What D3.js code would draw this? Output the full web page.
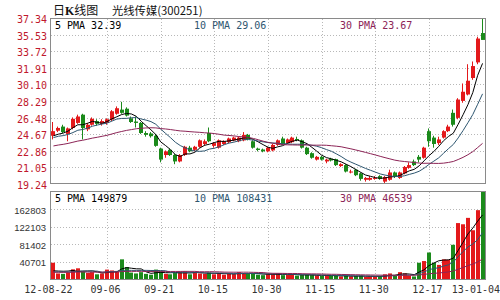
<!DOCTYPE html>
<html><head><meta charset="utf-8">
<script src="https://cdn.jsdelivr.net/npm/d3@7"></script>
<style>html,body{margin:0;padding:0;background:#fff;} svg{display:block;}</style>
</head><body>
<svg id="c" width="500" height="300"></svg>
<script>
// ---------- DATA ----------
const opens  = [24.5,25.05,25.5,24.7,25.35,25.9,26.8,25.2,25.7,26.1,25.8,25.9,26.26,26.9,27.35,27.45,26.4,26.05,25.9,24.8,24.75,24.5,23.1,22.4,22.97,22.4,21.7,22.4,23.2,22.97,23.3,23.6,24.8,23.4,23.2,23.6,23.8,24.0,23.9,24.0,24.6,23.9,23.1,23.0,22.8,22.9,23.5,24.2,23.7,23.8,24.15,24.0,23.2,22.6,21.9,22.2,21.7,22.0,21.95,21.2,21.3,20.5,20.8,20.4,19.7,19.7,19.8,20.1,19.5,19.7,20.5,19.9,20.4,21.0,21.7,22.2,22.1,25.0,24.3,23.7,24.3,25.0,27.0,26.45,28.3,29.0,30.8,32.5,35.7];
const highs  = [26.0,25.5,25.7,25.4,26.5,26.8,26.9,25.9,26.5,26.3,26.3,26.4,27.3,27.7,28.2,27.6,26.6,26.6,26.0,25.0,24.9,24.7,23.2,22.9,23.1,22.5,22.5,23.4,23.4,23.4,24.1,24.1,25.4,23.8,24.1,24.0,24.3,24.4,24.4,24.9,24.7,24.0,23.2,23.1,23.3,23.6,24.1,24.4,24.2,24.4,24.4,24.1,23.3,22.7,22.3,22.3,22.0,22.1,22.0,21.5,21.4,20.8,20.9,20.5,20.0,20.1,20.1,20.2,20.1,20.8,20.6,20.6,21.2,21.6,21.9,22.4,23.3,25.3,24.5,24.4,25.1,25.7,27.36,28.6,30.2,32.3,32.6,35.3,37.34];
const lows   = [24.1,24.9,24.8,23.9,25.2,25.8,24.1,25.0,25.6,25.6,25.6,25.7,26.1,26.8,26.9,26.6,25.9,25.4,24.7,24.4,24.3,23.3,21.6,22.1,22.3,21.4,21.6,22.3,22.7,22.8,23.2,23.4,23.8,23.2,23.1,23.5,23.7,23.9,23.8,23.9,24.0,23.1,22.8,22.7,22.7,22.8,23.4,23.5,23.6,23.7,23.9,23.1,22.4,22.0,21.8,21.8,21.5,21.7,21.2,21.1,20.5,20.4,20.1,19.6,19.5,19.6,19.7,19.7,19.3,19.6,19.9,19.8,20.3,20.9,21.2,21.6,22.0,23.3,23.2,23.5,24.2,24.9,25.5,26.3,28.1,28.9,30.6,32.3,35.0];
const closes = [25.0,25.35,24.9,25.3,26.35,26.6,25.35,25.7,26.35,25.8,26.1,26.3,27.17,27.5,27.0,26.7,26.0,25.9,24.8,24.6,24.45,23.4,21.9,22.8,22.4,21.7,22.4,23.3,22.8,23.3,24.0,23.9,23.9,23.7,24.0,23.9,24.2,24.3,24.3,24.6,24.1,23.2,22.95,22.8,23.2,23.5,24.0,23.6,24.1,24.3,24.1,23.2,22.5,22.1,22.2,21.9,21.9,21.8,21.3,21.4,20.6,20.6,20.2,19.8,19.9,19.9,19.9,19.8,20.0,20.5,20.0,20.5,21.1,21.3,21.3,21.9,23.2,23.9,23.6,24.1,25.0,25.5,25.7,28.45,29.3,30.5,32.1,35.1,34.95];
const volumes = [38000,13000,12000,15000,22600,25000,17000,14000,16000,11000,13000,22000,20000,17000,46000,28000,15000,13000,16000,12000,10000,22000,18000,12000,11000,14000,17000,18000,11000,16000,13000,12000,15000,11000,14000,10000,12000,11000,16000,14000,12000,13000,10000,9000,12000,11000,13000,9000,10000,11000,8000,9000,10000,9000,8000,7000,9000,7000,8000,6000,7000,6000,7000,8000,5000,6000,5000,7000,11000,13000,8000,16000,13000,8000,6000,38000,42000,62000,38000,33000,46000,45000,80000,130800,128000,143000,114000,161000,203504];
// sessions before the visible window (only feed the moving averages)
const priorCloses = [22.4,22.6,22.3,22.5,22.8,22.6,22.4,22.7,23.0,22.9,23.1,22.8,23.0,23.3,23.2,23.4,23.1,23.3,23.5,23.8,23.9,24.2,24.0,24.3,24.1,24.5,24.3,24.2,24.5];
const priorVolumes = [14000,16000,12000,18000,15000,13000,20000,17000,14000,12000,16000,19000,15000,13000,17000,14000,12000,15000,18000,16000,13000,14000,17000,15000,12000,16000,14000,13000,15000];

const priceTicks = [19.24,21.05,22.86,24.67,26.48,28.29,30.10,31.91,33.72,35.53,37.34];
const volumeTicks = [40701,81402,122103,162803];
const volumeMax = 203504;
const dateTickIndex = [0,11,22,33,44,55,66,77,88];
const dateTickLabels = ["12-08-22","09-06","09-21","10-15","10-30","11-15","11-30","12-17","13-01-04"];
const maPeriods = [5,10,30];
const maNames = ["5 PMA","10 PMA","30 PMA"];
const priceMaLegend = ["32.39","29.06","23.67"];
const volumeMaLegend = ["149879","108431","46539"];
const chartTitle = ["日","K","线图"];
const stockName = "光线传媒(300251)";

// ---------- STYLE ----------
const W = 500, H = 300;
const UP = "#e3191b", DOWN = "#1b8a1b";
const maColors = ["#000000","#2e5670","#8c2456"];
const mono = "'DejaVu Sans Mono', 'Liberation Mono', monospace";

const svg = d3.select("#c");
const n = closes.length;
const x = d3.scalePoint().domain(d3.range(n)).range([51, 485]).padding(0.5);
const yP = d3.scaleLinear().domain([19.24, 37.34]).range([184, 18]);
const yV = d3.scaleLinear().domain([0, volumeMax]).range([279, 192]);
const crisp = v => Math.round(v) + 0.5;

// clip paths
const defs = svg.append("defs");
defs.append("clipPath").attr("id","cpMain").append("rect").attr("x",51).attr("y",19).attr("width",434).attr("height",165);
defs.append("clipPath").attr("id","cpVol").append("rect").attr("x",51).attr("y",192).attr("width",434).attr("height",87);

// title
const t = svg.append("text").attr("x",53).attr("y",15).attr("font-family","'Noto Sans CJK SC', sans-serif").attr("font-size",12).attr("fill","#111");
t.append("tspan").text(chartTitle[0]);
t.append("tspan").attr("font-weight","bold").attr("font-family","'Liberation Serif', serif").attr("font-size",12).text(chartTitle[1]);
t.append("tspan").text(chartTitle[2]);
svg.append("text").attr("x",112).attr("y",15).attr("font-family","'Noto Sans CJK SC', sans-serif").attr("font-size",11.3).attr("fill","#111").text(stockName);

// grids
function grid(g, yTicks, yScale, top, bottom) {
  yTicks.forEach(v => {
    const yy = crisp(yScale(v));
    g.append("line").attr("x1",51).attr("x2",485).attr("y1",yy).attr("y2",yy)
      .attr("stroke","#b8b8b8").attr("stroke-dasharray","1,2");
  });
  dateTickIndex.slice(1, -1).forEach(i => {
    const xx = crisp(x(i));
    g.append("line").attr("x1",xx).attr("x2",xx).attr("y1",top).attr("y2",bottom)
      .attr("stroke","#b8b8b8").attr("stroke-dasharray","1,2");
  });
}
const gMain = svg.append("g");
grid(gMain, priceTicks.slice(1, -1), yP, 19, 183);
const gVol = svg.append("g");
grid(gVol, volumeTicks, yV, 192, 279);

// moving averages
const allCloses = priorCloses.concat(closes);
const allVols = priorVolumes.concat(volumes);
const off = priorCloses.length;
function ma(arr, p) {
  return d3.range(n).map(i => d3.mean(arr.slice(off + i - p + 1, off + i + 1)));
}

// candles
const cg = svg.append("g").attr("clip-path","url(#cpMain)");
d3.range(n).forEach(i => {
  const up = closes[i] >= opens[i];
  const col = up ? UP : DOWN;
  const x0 = Math.round(x(i)) - 2;
  cg.append("line").attr("x1",x0+1.5).attr("x2",x0+1.5)
    .attr("y1",yP(highs[i])).attr("y2",yP(lows[i])).attr("stroke",col).attr("stroke-width",1);
  const yt = yP(Math.max(opens[i], closes[i])), yb = yP(Math.min(opens[i], closes[i]));
  cg.append("rect").attr("x",x0).attr("width",4).attr("y",yt).attr("height",Math.max(1, yb - yt)).attr("fill",col);
});
maPeriods.forEach((p, k) => {
  const vals = ma(allCloses, p);
  cg.append("path").datum(vals)
    .attr("d", d3.line().x((d, i) => x(i)).y(d => yP(d)))
    .attr("fill","none").attr("stroke",maColors[k]).attr("stroke-width",1);
});

// volume bars
const vg = svg.append("g").attr("clip-path","url(#cpVol)");
d3.range(n).forEach(i => {
  const up = closes[i] >= opens[i];
  const x0 = Math.round(x(i)) - 2;
  vg.append("rect").attr("x",x0).attr("width",4).attr("y",yV(volumes[i]))
    .attr("height",yV(0) - yV(volumes[i])).attr("fill", up ? UP : DOWN);
});
maPeriods.forEach((p, k) => {
  const vals = ma(allVols, p);
  vg.append("path").datum(vals)
    .attr("d", d3.line().x((d, i) => x(i)).y(d => yV(d)))
    .attr("fill","none").attr("stroke",maColors[k]).attr("stroke-width",1);
});

// frames
svg.append("rect").attr("x",50.5).attr("y",18.5).attr("width",435).attr("height",165).attr("fill","none").attr("stroke","#8a8a8a");
svg.append("rect").attr("x",50.5).attr("y",191.5).attr("width",435).attr("height",88).attr("fill","none").attr("stroke","#8a8a8a");

// legends
const legX = [55, 194, 340];
maNames.forEach((nm, k) => {
  svg.append("text").attr("x",legX[k]).attr("y",29).attr("font-family",mono).attr("font-size",10)
    .attr("fill",maColors[k]).attr("xml:space","preserve").text(nm + " " + priceMaLegend[k]);
  svg.append("text").attr("x",legX[k]).attr("y",201.5).attr("font-family",mono).attr("font-size",10)
    .attr("fill",maColors[k]).attr("xml:space","preserve").text(nm + " " + volumeMaLegend[k]);
});

// price axis labels
priceTicks.forEach(v => {
  svg.append("text").attr("x",47).attr("y",yP(v) + 1.5).attr("dy","0.35em").attr("text-anchor","end")
    .attr("font-family",mono).attr("font-size",10).attr("fill","#c0182c").text(v.toFixed(2));
});
// volume axis labels
volumeTicks.forEach(v => {
  svg.append("text").attr("x",46).attr("y",yV(v) + 1).attr("dy","0.35em").attr("text-anchor","end")
    .attr("font-family","'Liberation Sans', Arial, sans-serif").attr("font-size",9.5).attr("fill","#333").text(v);
});
// date labels
dateTickIndex.forEach((i, k) => {
  let xx = x(i) - 1.5, anchor = "middle";
  if (k === 0) xx = x(i) - 5;
  if (k === dateTickIndex.length - 1) { xx = W; anchor = "end"; }
  svg.append("text").attr("x",xx).attr("y",293).attr("text-anchor",anchor)
    .attr("font-family",mono).attr("font-size",10).attr("fill","#333").text(dateTickLabels[k]);
});
</script>
</body></html>
